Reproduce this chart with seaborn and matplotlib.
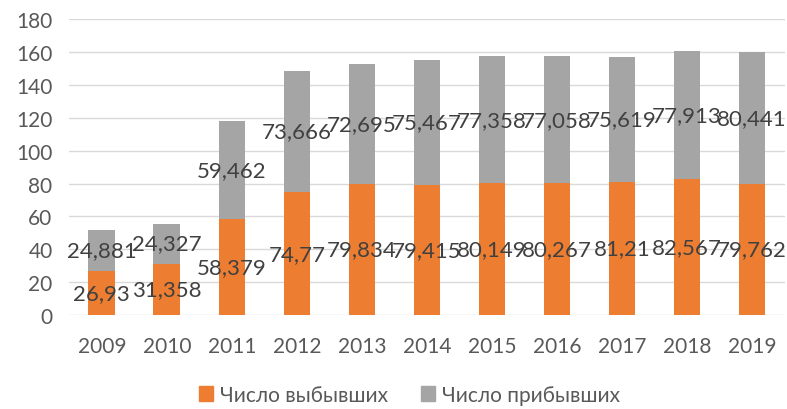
import pandas as pd
import seaborn as sns
import matplotlib.pyplot as plt
from matplotlib.patches import Patch

sns.set_theme(style="white")
plt.rcParams['font.family'] = ['Lato', 'DejaVu Sans']

years = ["2009", "2010", "2011", "2012", "2013", "2014", "2015", "2016", "2017", "2018", "2019"]
left = [26.93, 31.358, 58.379, 74.77, 79.834, 79.415, 80.149, 80.267, 81.21, 82.567, 79.762]
arrived = [24.881, 24.327, 59.462, 73.666, 72.695, 75.467, 77.358, 77.058, 75.619, 77.913, 80.441]

df = pd.DataFrame({"year": years, "left": left, "arrived": arrived})
df["total"] = df["left"] + df["arrived"]

orange = "#ED7D31"
gray = "#A5A5A5"
txt = "#404040"

fig = plt.figure(figsize=(7.87, 4.10), dpi=100)
ax = fig.add_axes([0.088, 0.229, 0.909, 0.722])

# серый столбец на всю высоту, сверху оранжевый нижний сегмент
sns.barplot(data=df, x="year", y="total", color=gray, width=0.41, saturation=1,
            linewidth=0, ax=ax)
sns.barplot(data=df, x="year", y="left", color=orange, width=0.41, saturation=1,
            linewidth=0, ax=ax)

def fmt(v):
    return ("%g" % v).replace(".", ",")

for i, row in df.iterrows():
    ax.text(i, row["left"] / 2, fmt(row["left"]), ha="center", va="center",
            fontsize=16, color=txt)
    ax.text(i, row["left"] + row["arrived"] / 2, fmt(row["arrived"]), ha="center",
            va="center", fontsize=16, color=txt)

ax.set_ylim(0, 180)
ax.set_xlim(-0.5, len(years) - 0.5)
ax.set_yticks(range(0, 181, 20))
ax.yaxis.grid(True, color="#D9D9D9", linewidth=1)
ax.set_axisbelow(True)
for s in ax.spines.values():
    s.set_visible(False)
ax.set_xlabel("")
ax.set_ylabel("")
ax.tick_params(axis="both", length=0, labelsize=15, colors="#595959")
ax.tick_params(axis="x", pad=15)
ax.tick_params(axis="y", pad=12)

handles = [Patch(color=orange, label="Число выбывших"),
           Patch(color=gray, label="Число прибывших")]
fig.legend(handles=handles, loc="lower center", ncol=2, frameon=False,
           bbox_to_anchor=(0.52, -0.035), fontsize=15, labelcolor="#595959",
           handlelength=0.7, handleheight=0.7, columnspacing=1.6, handletextpad=0.3)

plt.savefig("out.png", dpi=100)
